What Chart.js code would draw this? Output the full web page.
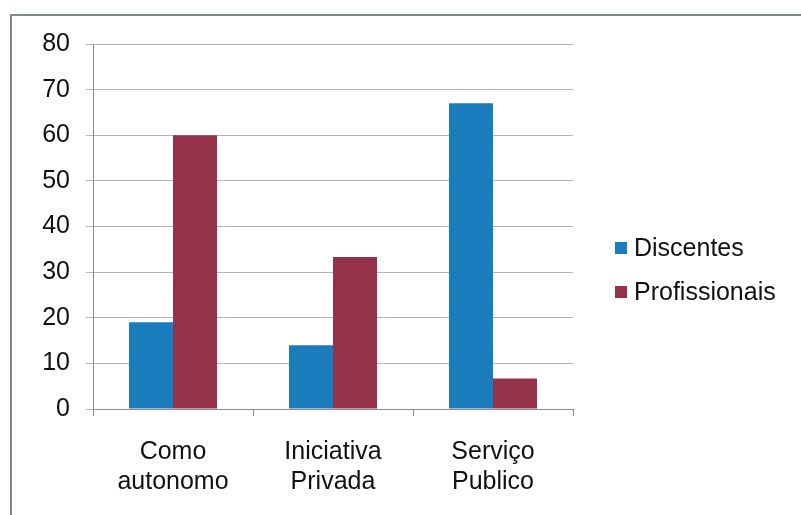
<!DOCTYPE html>
<html>
<head>
<meta charset="utf-8">
<script src="https://cdn.jsdelivr.net/npm/chart.js@4.4.1/dist/chart.umd.min.js"></script>
<style>
  html, body { margin: 0; padding: 0; background: #fff; }
  #wrap { position: relative; width: 801px; height: 515px; }
  #moldura { position: absolute; left: 10px; top: 14px; width: 800px; height: 520px;
             border-left: 2px solid #7d8893; border-top: 2px solid #7d8893; }
  canvas { position: absolute; left: 0; top: 0; }
</style>
</head>
<body>
<div id="wrap">
  <div id="moldura"></div>
  <canvas id="grafico" width="801" height="515"></canvas>
</div>
<script>
// dados
var categorias = [['Como', 'autonomo'], ['Iniciativa', 'Privada'], ['Serviço', 'Publico']];
var discentes = [19, 14, 67];
var profissionais = [60, 33.3, 6.7];
var ticksY = [0, 10, 20, 30, 40, 50, 60, 70, 80];

var fonte = { family: 'Liberation Sans, Arial, sans-serif', size: 25, lineHeight: 1.2 };

// legenda desenhada à mão p/ ficar no lugar certo
var legendaManual = {
  id: 'legendaManual',
  afterDraw: function (chart) {
    var ctx = chart.ctx;
    var ys = [248, 292];
    ctx.save();
    ctx.font = fonte.size + 'px ' + fonte.family;
    ctx.textBaseline = 'middle';
    chart.data.datasets.forEach(function (ds, i) {
      ctx.fillStyle = ds.backgroundColor;
      ctx.fillRect(615, ys[i] - 6, 12, 12);
      ctx.fillStyle = '#111';
      ctx.fillText(ds.label, 634, ys[i] + 1);
    });
    ctx.restore();
  }
};

var ctx = document.getElementById('grafico').getContext('2d');
var meuGrafico = new Chart(ctx, {
  type: 'bar',
  data: {
    labels: categorias,
    datasets: [
      { label: 'Discentes', data: discentes, backgroundColor: '#1a7cbd' },
      { label: 'Profissionais', data: profissionais, backgroundColor: '#953249' }
    ]
  },
  options: {
    responsive: false,
    animation: false,
    layout: { padding: { left: 40, right: 228, top: 44, bottom: 6 } },
    plugins: { legend: { display: false }, tooltip: { enabled: false } },
    datasets: { bar: { categoryPercentage: 0.55, barPercentage: 1.0 } },
    scales: {
      x: {
        grid: { drawOnChartArea: false, drawTicks: true, tickLength: 7, color: '#8c8c8c' },
        border: { color: '#8c8c8c', width: 1 },
        ticks: { color: '#111', font: fonte, padding: 21, maxRotation: 0, autoSkip: false },
        afterFit: function (s) { s.height = 100; }
      },
      y: {
        min: 0,
        max: 80,
        afterBuildTicks: function (s) { s.ticks = ticksY.map(function (v) { return { value: v }; }); },
        grid: { color: '#b4b4b4', tickLength: 7 },
        border: { color: '#8c8c8c', width: 1 },
        ticks: { color: '#111', font: fonte, padding: 16 },
        afterFit: function (s) { s.width = 53; }
      }
    }
  },
  plugins: [legendaManual]
});
</script>
</body>
</html>
